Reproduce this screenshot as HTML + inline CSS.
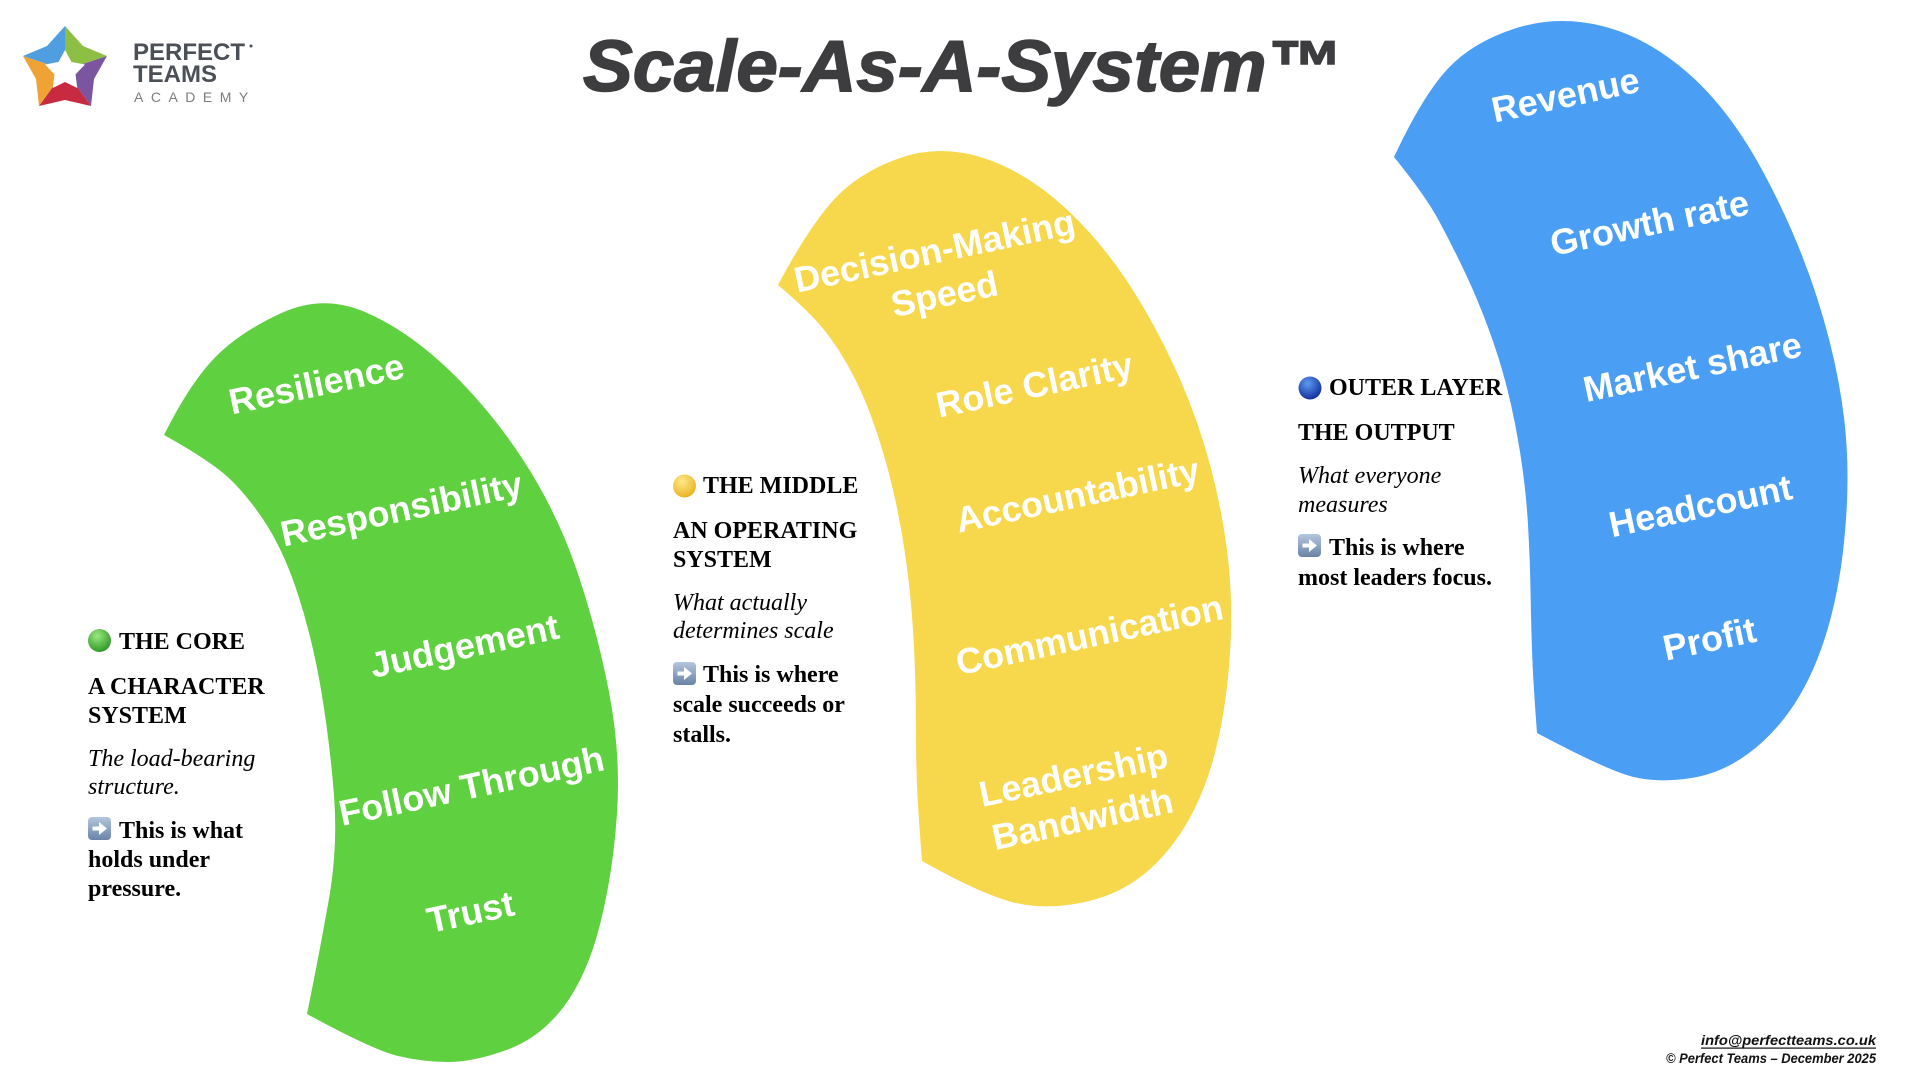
<!DOCTYPE html>
<html>
<head>
<meta charset="utf-8">
<style>
  html, body { margin: 0; padding: 0; background: #ffffff; }
  svg { display: block; }
</style>
</head>
<body>
<svg width="1920" height="1080" viewBox="0 0 1920 1080" xmlns="http://www.w3.org/2000/svg">
  <defs>
    <radialGradient id="gG" cx="40%" cy="30%" r="70%">
      <stop offset="0" stop-color="#9be87f"/>
      <stop offset="1" stop-color="#2f9a27"/>
    </radialGradient>
    <radialGradient id="gY" cx="40%" cy="30%" r="70%">
      <stop offset="0" stop-color="#ffe98a"/>
      <stop offset="1" stop-color="#eab422"/>
    </radialGradient>
    <radialGradient id="gB" cx="40%" cy="30%" r="70%">
      <stop offset="0" stop-color="#5e9af0"/>
      <stop offset="1" stop-color="#14309e"/>
    </radialGradient>
    <linearGradient id="gA" x1="0" y1="0" x2="0" y2="1">
      <stop offset="0" stop-color="#b3c6dd"/>
      <stop offset="1" stop-color="#6a84a6"/>
    </linearGradient>
  </defs>

  <rect width="1920" height="1080" fill="#ffffff"/>

  <!-- Logo -->
  <g>
    <polygon points="65,70 65,26 83,46 107,56" fill="#8dbf45"/>
    <polygon points="65,70 107,56 94,79 91,106" fill="#7b559f"/>
    <polygon points="65,70 91,106 65,100 39,106" fill="#c72a41"/>
    <polygon points="65,70 39,106 36,79 23,56" fill="#f0a335"/>
    <polygon points="65,70 23,56 47,46 65,26" fill="#4f9fe0"/>
    <polygon points="65,50 71.5,62 85,64.5 75.5,74.4 77.3,88 65,82 52.7,88 54.5,74.4 45,64.5 58.5,62" fill="#ffffff"/>
  </g>
  <text x="133" y="60" font-family="'Liberation Sans', sans-serif" font-weight="bold" font-size="24" fill="#4b5057">PERFECT</text>
  <circle cx="251" cy="46" r="1.5" fill="#4b5057"/>
  <text x="133" y="82" font-family="'Liberation Sans', sans-serif" font-weight="bold" font-size="24" fill="#4b5057">TEAMS</text>
  <text x="134" y="102" font-family="'Liberation Sans', sans-serif" font-size="14" letter-spacing="7.5" fill="#7a7d80">ACADEMY</text>

  <!-- Title -->
  <text x="583" y="91" font-family="'Liberation Sans', sans-serif" font-weight="bold" font-style="italic" font-size="72" fill="#3d3d3f" stroke="#3d3d3f" stroke-width="1.6" textLength="758" lengthAdjust="spacingAndGlyphs">Scale-As-A-System™</text>

  <!-- Green crescent -->
  <path fill="#5fd03f" d="M164,435 Q190,383 215,357.5 Q240,332 281.5,313 Q323,294 365,312 Q407,330 448.5,369.5 Q490,409 523.5,460.5 Q557,512 577,571 Q597,630 609,692 Q621,754 617,813.5 Q613,873 600,924.5 Q587,976 563.5,1007 Q540,1038 506.5,1050 Q473,1062 448,1062 Q423,1062 398,1056 Q373,1050 307,1014 Q320,950 329,898.5 Q338,847 334,795.5 Q330,744 321.5,692.5 Q313,641 298,594.5 Q283,548 261.5,517 Q240,486 220,470.5 Q200,455 164,435 Z"/>

  <!-- Yellow crescent -->
  <path fill="#f7d74b" d="M778,285 Q810,225 835,198.5 Q860,172 900,158 Q940,144 983.5,158 Q1027,172 1068.5,211 Q1110,250 1143.5,307.5 Q1177,365 1197,422.5 Q1217,480 1226,542.5 Q1235,605 1228.5,672.5 Q1222,740 1204.5,786 Q1187,832 1157,862.5 Q1127,893 1085,902 Q1043,911 1010,901.5 Q977,892 922,861 Q918,810 917,785 Q916,760 916,730 Q916,700 915,670 Q914,640 911.5,610 Q909,580 904.5,550 Q900,520 893,490 Q886,460 876,430 Q866,400 853,375 Q840,350 825,331 Q810,312 778,285 Z"/>

  <!-- Blue crescent -->
  <path fill="#4a9ff5" d="M1394,157 Q1423,95 1448,68.5 Q1473,42 1515,28.5 Q1557,15 1602,26 Q1647,37 1688.5,73.5 Q1730,110 1763.5,172.5 Q1797,235 1817,297.5 Q1837,360 1844,417.5 Q1851,475 1844,542.5 Q1837,610 1817,660 Q1797,710 1763.5,741 Q1730,772 1691.5,778 Q1653,784 1625,774.5 Q1597,765 1537,733 Q1533,680 1532,650 Q1531,620 1530.5,590 Q1530,560 1528,525 Q1526,490 1520.5,455 Q1515,420 1507.5,390 Q1500,360 1489,330 Q1478,300 1465,272.5 Q1452,245 1438.5,220 Q1425,195 1394,157 Z"/>

  <!-- Crescent labels -->
  <g font-family="'Liberation Sans', sans-serif" font-weight="bold" font-size="36" fill="#ffffff" text-anchor="middle">
    <text transform="translate(319,396) rotate(-12)">Resilience</text>
    <text transform="translate(404,521) rotate(-12)">Responsibility</text>
    <text transform="translate(467,658) rotate(-12)">Judgement</text>
    <text transform="translate(474,798) rotate(-12)">Follow Through</text>
    <text transform="translate(473,924) rotate(-12)">Trust</text>

    <text transform="translate(937,263) rotate(-12)">Decision-Making</text>
    <text transform="translate(947,306) rotate(-12)">Speed</text>
    <text transform="translate(1037,397) rotate(-12)">Role Clarity</text>
    <text transform="translate(1080,507) rotate(-12)">Accountability</text>
    <text transform="translate(1092,647) rotate(-12)">Communication</text>
    <text transform="translate(1076,787) rotate(-12)">Leadership</text>
    <text transform="translate(1085,831) rotate(-12)">Bandwidth</text>

    <text transform="translate(1568,107) rotate(-12)">Revenue</text>
    <text transform="translate(1652,235) rotate(-12)">Growth rate</text>
    <text transform="translate(1695,379) rotate(-12)">Market share</text>
    <text transform="translate(1703,518) rotate(-12)">Headcount</text>
    <text transform="translate(1712,651) rotate(-12)">Profit</text>
  </g>

  <!-- Green text block -->
  <circle cx="99.5" cy="640.5" r="11.5" fill="url(#gG)"/>
  <g font-family="'Liberation Serif', serif" font-size="24" fill="#000000">
    <text x="119" y="649" font-weight="bold">THE CORE</text>
    <text x="88" y="694" font-weight="bold">A CHARACTER</text>
    <text x="88" y="723" font-weight="bold">SYSTEM</text>
    <text x="88" y="766" font-style="italic">The load-bearing</text>
    <text x="88" y="794" font-style="italic">structure.</text>
    <text x="119" y="838" font-weight="bold">This is what</text>
    <text x="88" y="867" font-weight="bold">holds under</text>
    <text x="88" y="896" font-weight="bold">pressure.</text>
  </g>
  <g transform="translate(88,817)">
    <rect width="23" height="23" rx="4" fill="url(#gA)"/>
    <rect x="4.5" y="9.5" width="8" height="4" fill="#ffffff"/>
    <polygon points="11,5 19,11.5 11,18" fill="#ffffff"/>
  </g>

  <!-- Yellow text block -->
  <circle cx="684.5" cy="486" r="11.5" fill="url(#gY)"/>
  <g font-family="'Liberation Serif', serif" font-size="24" fill="#000000">
    <text x="703" y="493" font-weight="bold">THE MIDDLE</text>
    <text x="673" y="538" font-weight="bold">AN OPERATING</text>
    <text x="673" y="567" font-weight="bold">SYSTEM</text>
    <text x="673" y="610" font-style="italic">What actually</text>
    <text x="673" y="638" font-style="italic">determines scale</text>
    <text x="703" y="682" font-weight="bold">This is where</text>
    <text x="673" y="712" font-weight="bold">scale succeeds or</text>
    <text x="673" y="742" font-weight="bold">stalls.</text>
  </g>
  <g transform="translate(673,662)">
    <rect width="23" height="23" rx="4" fill="url(#gA)"/>
    <rect x="4.5" y="9.5" width="8" height="4" fill="#ffffff"/>
    <polygon points="11,5 19,11.5 11,18" fill="#ffffff"/>
  </g>

  <!-- Blue text block -->
  <circle cx="1310" cy="388" r="11.5" fill="url(#gB)"/>
  <g font-family="'Liberation Serif', serif" font-size="24" fill="#000000">
    <text x="1329" y="395" font-weight="bold">OUTER LAYER</text>
    <text x="1298" y="440" font-weight="bold">THE OUTPUT</text>
    <text x="1298" y="483" font-style="italic">What everyone</text>
    <text x="1298" y="512" font-style="italic">measures</text>
    <text x="1329" y="555" font-weight="bold">This is where</text>
    <text x="1298" y="585" font-weight="bold">most leaders focus.</text>
  </g>
  <g transform="translate(1298,534)">
    <rect width="23" height="23" rx="4" fill="url(#gA)"/>
    <rect x="4.5" y="9.5" width="8" height="4" fill="#ffffff"/>
    <polygon points="11,5 19,11.5 11,18" fill="#ffffff"/>
  </g>

  <!-- Footer -->
  <g font-family="'Liberation Sans', sans-serif" font-weight="bold" font-style="italic" font-size="13.5" fill="#111111">
    <text x="1701" y="1045" textLength="175" lengthAdjust="spacingAndGlyphs">info@perfectteams.co.uk</text>
    <text x="1666" y="1063" textLength="210" lengthAdjust="spacingAndGlyphs">© Perfect Teams – December 2025</text>
  </g>
  <rect x="1701" y="1047.5" width="175" height="1.2" fill="#111111"/>
</svg>
</body>
</html>
